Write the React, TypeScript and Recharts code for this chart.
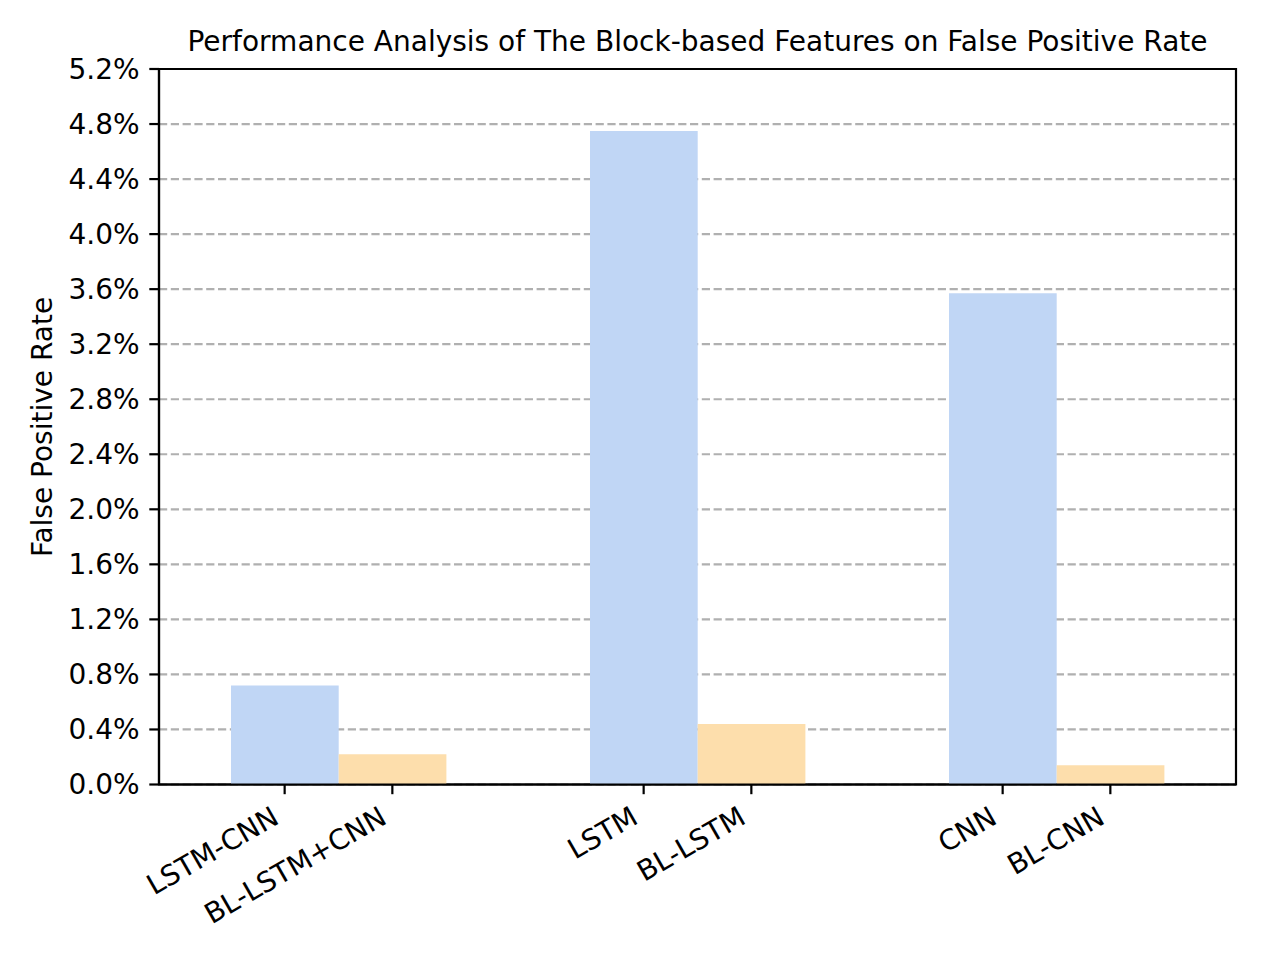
import React from 'react';
import { BarChart, Bar, XAxis, YAxis, CartesianGrid, ReferenceArea } from 'recharts';

const groups = ['g1', 'g2', 'g3'];
const baseModels = ['LSTM-CNN', 'LSTM', 'CNN'];
const blockModels = ['BL-LSTM+CNN', 'BL-LSTM', 'BL-CNN'];
const baseFpr = [0.72, 4.75, 3.57];
const blockFpr = [0.22, 0.44, 0.14];
const yTicks = [0, 0.4, 0.8, 1.2, 1.6, 2.0, 2.4, 2.8, 3.2, 3.6, 4.0, 4.4, 4.8, 5.2];

const data = groups.map((g, i) => ({
  group: g,
  base: baseFpr[i],
  block: blockFpr[i],
}));

const FONT = '"DejaVu Sans", sans-serif';
const FS = 28;
const LW = 2.2;
const TICK = 9.7;
const BAR = 107.7;

const GroupTick = (props: any) => {
  const { x, y, payload } = props;
  const i = groups.indexOf(payload.value);
  const labels = [baseModels[i], blockModels[i]];
  return (
    <g>
      {labels.map((lab, k) => {
        const tx = x + (k === 0 ? -BAR / 2 : BAR / 2);
        const ax = tx - 4;
        const ay = y + 38;
        return (
          <g key={lab}>
            <line x1={tx} y1={y} x2={tx} y2={y + TICK} stroke="#000" strokeWidth={LW} />
            <text
              x={ax}
              y={ay}
              textAnchor="end"
              transform={`rotate(-30, ${ax}, ${ay})`}
              fontFamily={FONT}
              fontSize={FS}
              fill="#000"
            >
              {lab}
            </text>
          </g>
        );
      })}
    </g>
  );
};

export default function App() {
  return (
    <div style={{ position: 'relative', width: 1264, height: 944, fontFamily: FONT }}>
      <div
        style={{
          position: 'absolute',
          left: 151,
          width: 1077,
          top: 20.3,
          textAlign: 'center',
          fontSize: FS,
          lineHeight: 1,
          whiteSpace: 'nowrap',
          color: '#000',
        }}
      >
        Performance Analysis of The Block-based Features on False Positive Rate
      </div>
      <div
        style={{
          position: 'absolute',
          left: 35.2,
          top: 419,
          transform: 'translate(-50%, -50%) rotate(-90deg)',
          fontSize: FS,
          lineHeight: 1,
          whiteSpace: 'nowrap',
          color: '#000',
        }}
      >
        False Positive Rate
      </div>
      <BarChart
        width={1264}
        height={944}
        data={data}
        margin={{ top: 61, right: 36, left: 0, bottom: 17.5 }}
        barGap={0}
      >
        <CartesianGrid
          vertical={false}
          stroke="#b0b0b0"
          strokeWidth={LW}
          strokeDasharray="8.2 3.6"
        />
        <Bar dataKey="base" fill="#c0d6f5" barSize={BAR} isAnimationActive={false} />
        <Bar dataKey="block" fill="#fddeac" barSize={BAR} isAnimationActive={false} />
        <ReferenceArea
          y1={0}
          y2={5.2}
          fill="none"
          fillOpacity={0}
          stroke="#000"
          strokeWidth={LW}
          ifOverflow="visible"
        />
        <XAxis
          dataKey="group"
          height={150}
          axisLine={{ stroke: '#000', strokeWidth: LW }}
          tickLine={false}
          tickSize={0}
          tickMargin={0}
          interval={0}
          tick={<GroupTick />}
        />
        <YAxis
          type="number"
          domain={[0, 5.2]}
          ticks={yTicks}
          interval={0}
          width={151}
          axisLine={{ stroke: '#000', strokeWidth: LW }}
          tickLine={{ stroke: '#000', strokeWidth: LW }}
          tickSize={TICK}
          tickMargin={9.7}
          tickFormatter={(v: number) => `${v.toFixed(1)}%`}
          tick={{ fill: '#000', fontSize: FS, fontFamily: FONT }}
          allowDataOverflow
        />
      </BarChart>
    </div>
  );
}
